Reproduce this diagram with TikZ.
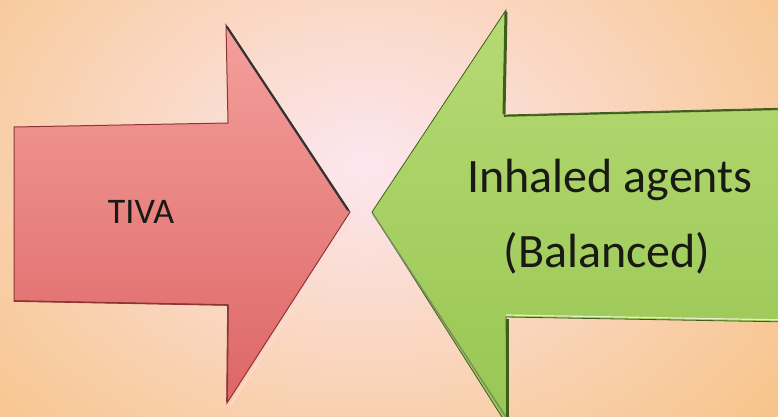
\documentclass[tikz,border=0pt]{standalone}
\usepackage{fontspec}
\setmainfont{Carlito}
\definecolor{bgout}{HTML}{F6BC70}
\definecolor{bgin}{HTML}{FCE6EF}
\definecolor{redtop}{HTML}{F4A09C}
\definecolor{redbot}{HTML}{DD6666}
\definecolor{reddark}{HTML}{8E3636}
\definecolor{greentop}{HTML}{B6DA74}
\definecolor{greenbot}{HTML}{98C653}
\definecolor{greendark}{HTML}{3F5E1C}
\definecolor{txt}{HTML}{1A1A14}
\tikzset{
  labeltext/.style={text=txt, inner sep=0pt, anchor=base},
  redarrow/.style={top color=redtop, bottom color=redbot, draw=reddark, line width=1pt, line join=miter},
  greenarrow/.style={top color=greentop, bottom color=greenbot, draw=greendark, line width=0.8pt, line join=miter},
}
\begin{document}
\begin{tikzpicture}[x=1pt,y=-1pt]
\useasboundingbox (0,0) rectangle (778,417);
\clip (0,0) rectangle (778,417);
\fill[bgout] (0,0) rectangle (778,417);
\shade[inner color=bgin, outer color=bgout] (365,165) ellipse (660 and 500);

% red arrow
\shade[redarrow] (14,127) -- (228,123) -- (226,25) -- (350,212) -- (227,403) -- (228,305) -- (14,301) -- cycle;
\draw[black!80, line width=2.2pt, line cap=round] (227,27) -- (348,210);
\draw[white!85!red, line width=1.2pt] (353,215) -- (230,406);
\draw[reddark, line width=1.6pt] (14,301) -- (228,305);
\draw[reddark, line width=1.6pt] (228,305) -- (227,402);

% green arrow
\shade[greenarrow] (372,212) -- (506,10) -- (504,115) -- (790,108) -- (790,322) -- (506,317) -- (507,425) -- cycle;
\draw[greendark, line width=3pt] (506,12) -- (504,114);
\draw[greendark, line width=3pt] (507,319) -- (507,420);
\draw[greendark, line width=1.6pt] (504,116) -- (790,109);
\draw[white!60!greentop, line width=1.2pt] (506,315) -- (790,320);
\draw[greendark!70, line width=1.4pt] (373,214) -- (506,417);

% texts
\node[labeltext, font=\fontsize{36}{40}\selectfont] (tiva) at (141,223) {TIVA};
\node[labeltext, font=\fontsize{48}{56}\selectfont] (inh) at (610,192) {Inhaled agents};
\node[labeltext, font=\fontsize{48}{56}\selectfont] (bal) at (607,267) {(Balanced)};
\end{tikzpicture}
\end{document}
